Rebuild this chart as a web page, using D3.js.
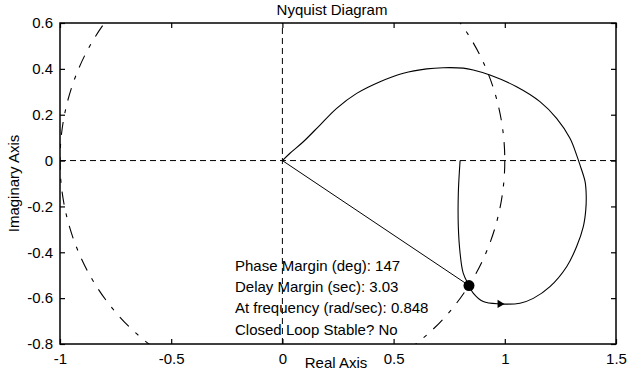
<!DOCTYPE html>
<html>
<head>
<meta charset="utf-8">
<script src="https://cdn.jsdelivr.net/npm/d3@7"></script>
<style>
  body { margin: 0; background: #fff; }
  svg text { font-family: "Liberation Sans", Arial, sans-serif; font-size: 15px; fill: #000; }
</style>
</head>
<body>
<svg id="nyq" width="640" height="371"></svg>
<script>
// Nyquist curve (real / imaginary parts)
var nyqRe = [0.799, 0.791, 0.791, 0.799, 0.813, 0.839, 0.858, 0.903, 0.978, 1.068, 1.128, 1.203, 1.278, 1.323, 1.353, 1.364, 1.366, 1.361, 1.338, 1.323, 1.293, 1.233, 1.158, 1.053, 0.933, 0.858, 0.813, 0.723, 0.649, 0.544, 0.439, 0.334, 0.244, 0.169, 0.094, 0.034, 0];
var nyqIm = [0, -0.143, -0.288, -0.404, -0.491, -0.545, -0.578, -0.615, -0.625, -0.622, -0.601, -0.550, -0.463, -0.375, -0.288, -0.216, -0.15, -0.092, -0.019, 0.024, 0.097, 0.184, 0.257, 0.322, 0.373, 0.395, 0.403, 0.405, 0.400, 0.381, 0.344, 0.293, 0.228, 0.155, 0.082, 0.032, 0];

// phase margin point and arrow
var pmPoint = [0.839, -0.545];
var arrowPt = [0.978, -0.625];

var xTicks = [-1, -0.5, 0, 0.5, 1, 1.5];
var yTicks = [-0.8, -0.6, -0.4, -0.2, 0, 0.2, 0.4, 0.6];

var infoLines = ["Phase Margin (deg): 147", "Delay Margin (sec): 3.03", "At frequency (rad/sec): 0.848", "Closed Loop Stable? No"];
var infoAnchor = [-0.213, -0.481];

var svg = d3.select("#nyq");
var pLeft = 60, pRight = 616, pTop = 23, pBottom = 344;

var x = d3.scaleLinear().domain([-1, 1.5]).range([pLeft, pRight]);
var y = d3.scaleLinear().domain([-0.8, 0.6]).range([pBottom, pTop]);

svg.append("defs").append("clipPath").attr("id", "clip")
  .append("rect")
  .attr("x", pLeft).attr("y", pTop)
  .attr("width", pRight - pLeft).attr("height", pBottom - pTop);

// axes with inward ticks on all sides
var fmt = d => String(d);
svg.append("g").attr("transform", `translate(0,${pBottom})`)
  .call(d3.axisBottom(x).tickValues(xTicks).tickFormat(fmt).tickSizeInner(-5).tickSizeOuter(0).tickPadding(9))
  .call(g => g.select(".domain").remove());
svg.append("g").attr("transform", `translate(0,${pTop})`)
  .call(d3.axisTop(x).tickValues(xTicks).tickFormat("").tickSizeInner(-5).tickSizeOuter(0))
  .call(g => g.select(".domain").remove());
svg.append("g").attr("transform", `translate(${pLeft},0)`)
  .call(d3.axisLeft(y).tickValues(yTicks).tickFormat(fmt).tickSizeInner(-5).tickSizeOuter(0).tickPadding(7))
  .call(g => g.select(".domain").remove());
svg.append("g").attr("transform", `translate(${pRight},0)`)
  .call(d3.axisRight(y).tickValues(yTicks).tickFormat("").tickSizeInner(-5).tickSizeOuter(0))
  .call(g => g.select(".domain").remove());

svg.selectAll(".tick line").attr("stroke", "#000").attr("stroke-width", 1.2);
svg.selectAll(".tick text").attr("font-size", null).attr("font-family", null);

var plot = svg.append("g").attr("clip-path", "url(#clip)");

// dashed zero lines
plot.append("line")
  .attr("x1", x(-1)).attr("x2", x(1.5)).attr("y1", y(0)).attr("y2", y(0))
  .attr("stroke", "#000").attr("stroke-dasharray", "6,4");
plot.append("line")
  .attr("x1", x(0)).attr("x2", x(0)).attr("y1", y(-0.8)).attr("y2", y(0.6))
  .attr("stroke", "#000").attr("stroke-dasharray", "6,4");

// unit circle, dash-dot
plot.append("ellipse")
  .attr("cx", x(0)).attr("cy", y(0))
  .attr("rx", x(1) - x(0)).attr("ry", y(0) - y(1))
  .attr("fill", "none").attr("stroke", "#000").attr("stroke-width", 1.1)
  .attr("stroke-dasharray", "13,9,4,9");

// line from origin to phase margin point
plot.append("line")
  .attr("x1", x(0)).attr("y1", y(0))
  .attr("x2", x(pmPoint[0])).attr("y2", y(pmPoint[1]))
  .attr("stroke", "#000").attr("stroke-width", 1);

// nyquist curve
var pts = nyqRe.map((r, i) => [r, nyqIm[i]]);
var line = d3.line().x(d => x(d[0])).y(d => y(d[1])).curve(d3.curveCatmullRom.alpha(0.5));
plot.append("path").datum(pts)
  .attr("d", line)
  .attr("fill", "none").attr("stroke", "#000").attr("stroke-width", 1.1);

// arrow head pointing right
plot.append("path")
  .attr("d", d3.symbol().type(d3.symbolTriangle).size(28)())
  .attr("transform", `translate(${x(arrowPt[0])},${y(arrowPt[1])}) rotate(90)`)
  .attr("fill", "#000");

// phase margin marker
plot.append("circle")
  .attr("cx", x(pmPoint[0])).attr("cy", y(pmPoint[1])).attr("r", 5.5)
  .attr("fill", "#000");

// box
svg.append("rect")
  .attr("x", pLeft).attr("y", pTop)
  .attr("width", pRight - pLeft).attr("height", pBottom - pTop)
  .attr("fill", "none").attr("stroke", "#000").attr("stroke-width", 1.5);

// info text
svg.append("g").selectAll("text")
  .data(infoLines)
  .join("text")
  .attr("x", x(infoAnchor[0]))
  .attr("y", (d, i) => y(infoAnchor[1]) + i * 21.3)
  .text(d => d);

// titles
svg.append("text").attr("x", 332).attr("y", 15)
  .attr("text-anchor", "middle").text("Nyquist Diagram");
svg.append("text").attr("x", 336).attr("y", 368)
  .attr("text-anchor", "middle").text("Real Axis");
svg.append("text")
  .attr("transform", `translate(18.5,${(pTop + pBottom) / 2}) rotate(-90)`)
  .attr("text-anchor", "middle").text("Imaginary Axis");
</script>
</body>
</html>
